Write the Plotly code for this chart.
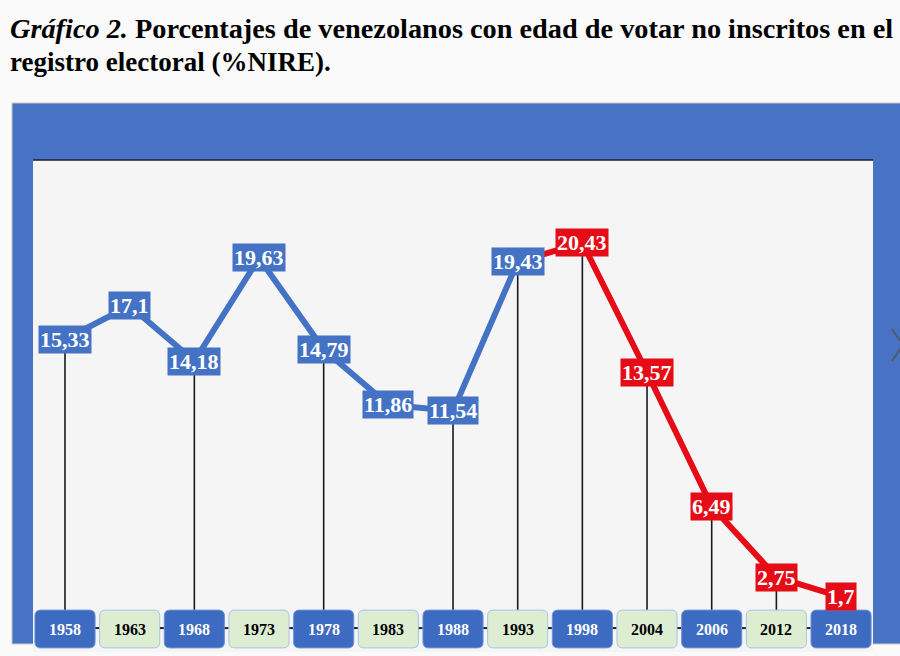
import plotly.graph_objects as go

# ---------------- data ----------------
years = ["1958", "1963", "1968", "1973", "1978", "1983", "1988",
         "1993", "1998", "2004", "2006", "2012", "2018"]
nire = [15.33, 17.1, 14.18, 19.63, 14.79, 11.86, 11.54,
        19.43, 20.43, 13.57, 6.49, 2.75, 1.7]
has_stem = [True, False, True, False, True, False, True,
            True, True, True, True, True, True]
red_from = 8          # index of first red (post-1998) point
title_italic = "Gráfico 2."
title_rest1 = "Porcentajes de venezolanos con edad de votar no inscritos en el"
title_line2 = "registro electoral (%NIRE)."

# ---------------- styling ----------------
W, H = 900, 656
BLUE = "#4472C4"
FRAME = "#4873C5"
RED = "#E50C17"
YBLUE = "#3D6BC1"
YGREEN = "#DCEDD2"
SERIF = "Liberation Serif, Times New Roman, serif"

x_idx = list(range(len(years)))


def px(x):
    return x / W


def py(y):
    return 1 - y / H


fig = go.Figure()

# stems
sx, sy = [], []
for i, (v, s) in enumerate(zip(nire, has_stem)):
    if s:
        sx += [i, i, None]
        sy += [v, 1.0, None]
fig.add_trace(go.Scatter(x=sx, y=sy, mode="lines",
                         line=dict(color="#1a1a1a", width=1.6),
                         hoverinfo="skip", showlegend=False))

# main line: blue then red
fig.add_trace(go.Scatter(x=x_idx[:red_from], y=nire[:red_from], mode="lines",
                         line=dict(color=BLUE, width=6), showlegend=False))
fig.add_trace(go.Scatter(x=x_idx[red_from - 1:], y=nire[red_from - 1:], mode="lines",
                         line=dict(color=RED, width=6), showlegend=False))

shapes = []
# frame (paper coords)
shapes.append(dict(type="rect", xref="paper", yref="paper", layer="below",
                   x0=px(12), x1=px(905), y0=py(644), y1=py(103),
                   fillcolor=FRAME, line=dict(color="#c8c8c8", width=1)))
shapes.append(dict(type="rect", xref="paper", yref="paper", layer="below",
                   x0=px(33), x1=px(873), y0=py(652), y1=py(160),
                   fillcolor="#F5F5F5", line=dict(width=0)))
shapes.append(dict(type="line", xref="paper", yref="paper", layer="below",
                   x0=px(33), x1=px(873), y0=py(160), y1=py(160),
                   line=dict(color="#1c1c2c", width=1.5)))
# chevron at right edge
shapes.append(dict(type="path", xref="paper", yref="paper",
                   path=f"M {px(892)},{py(329)} L {px(903)},{py(345)} L {px(892)},{py(361)}",
                   line=dict(color="#555555", width=1.5)))

# year boxes (rounded rects in data coords)
half_w = 0.465
rx, ry = 0.09, 0.3
y0b, y1b = -1.0, 1.0
for i, yr in enumerate(years):
    xl, xr = i - half_w, i + half_w
    path = (f"M {xl+rx},{y0b} L {xr-rx},{y0b} Q {xr},{y0b} {xr},{y0b+ry} "
            f"L {xr},{y1b-ry} Q {xr},{y1b} {xr-rx},{y1b} L {xl+rx},{y1b} "
            f"Q {xl},{y1b} {xl},{y1b-ry} L {xl},{y0b+ry} Q {xl},{y0b} {xl+rx},{y0b} Z")
    blue = (i % 2 == 0)
    shapes.append(dict(type="path", xref="x", yref="y", path=path, layer="above",
                       fillcolor=YBLUE if blue else YGREEN,
                       line=dict(color="#6E93D6" if blue else "#A9C3E6", width=1)))
    if i < len(years) - 1:
        shapes.append(dict(type="line", xref="x", yref="y", layer="above",
                           x0=i + 0.47, x1=i + 0.53, y0=0.05, y1=0.05,
                           line=dict(color="#222222", width=2)))

annotations = []
for i, yr in enumerate(years):
    blue = (i % 2 == 0)
    annotations.append(dict(x=i, y=-0.05, xref="x", yref="y", text=f"<b>{yr}</b>",
                            showarrow=False,
                            font=dict(family=SERIF, size=16,
                                      color="white" if blue else "black")))

# value labels
for i, v in enumerate(nire):
    col = RED if i >= red_from else BLUE
    annotations.append(dict(x=i, y=v, xref="x", yref="y",
                            text=f"<b>{str(v).replace('.', ',')}</b>",
                            showarrow=False, bgcolor=col, borderpad=1,
                            font=dict(family=SERIF, size=22, color="white")))

# title
annotations.append(dict(x=px(8), y=py(28), xref="paper", yref="paper",
                        xanchor="left", yanchor="middle", showarrow=False,
                        text=f"<b><i>{title_italic}</i> {title_rest1}</b>",
                        font=dict(family=SERIF, size=28.3, color="black")))
annotations.append(dict(x=px(8), y=py(62), xref="paper", yref="paper",
                        xanchor="left", yanchor="middle", showarrow=False,
                        text=f"<b>{title_line2}</b>",
                        font=dict(family=SERIF, size=27, color="black")))

fig.update_layout(
    width=W, height=H,
    margin=dict(l=0, r=0, t=0, b=0),
    paper_bgcolor="#FAFAFA", plot_bgcolor="rgba(0,0,0,0)",
    xaxis=dict(range=[-65 / 64.67, (W - 65) / 64.67], visible=False, fixedrange=True),
    yaxis=dict(range=[-27 / 18.9, 629 / 18.9], visible=False, fixedrange=True),
    shapes=shapes, annotations=annotations, showlegend=False,
)

fig.write_html("out.html")
